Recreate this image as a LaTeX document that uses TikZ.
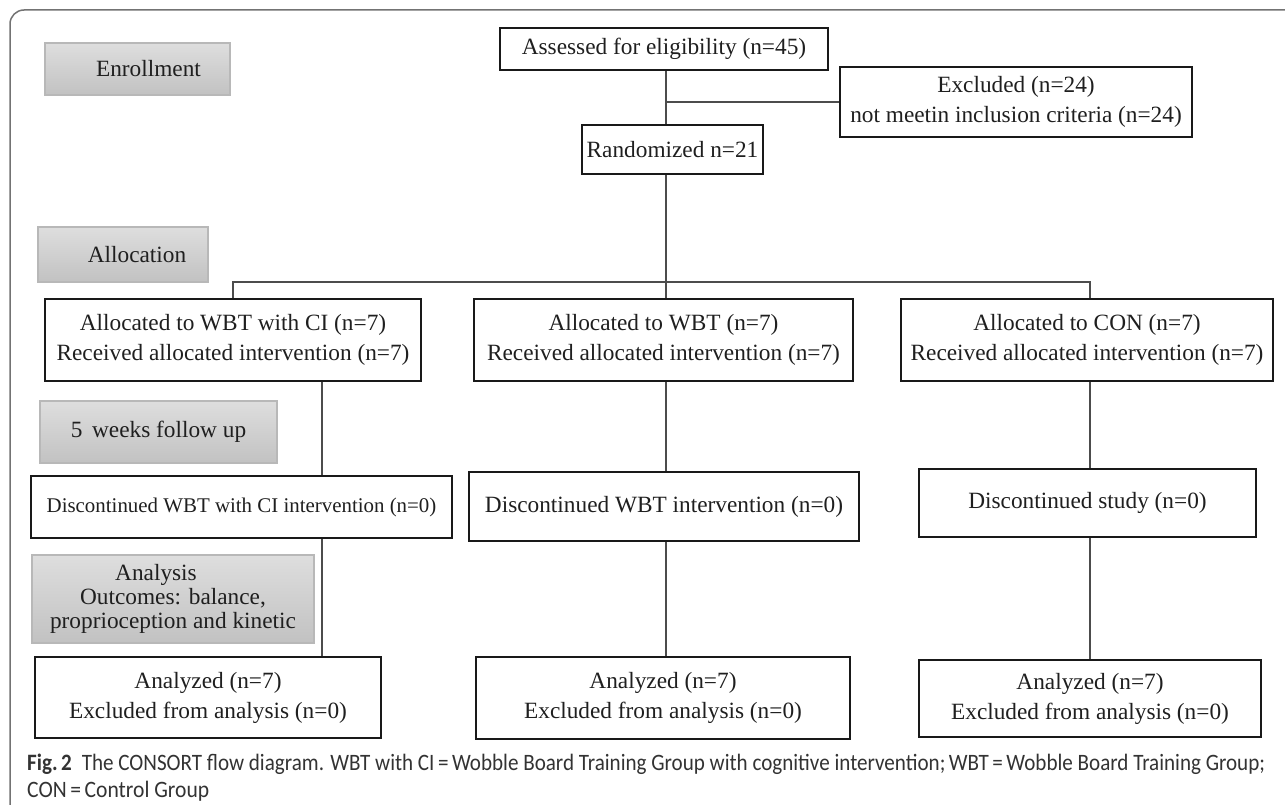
\documentclass[tikz,border=0pt]{standalone}
\usepackage{graphicx}
\usepackage{fontspec}
\setmainfont{Liberation Serif}
\newfontfamily\capfont{Carlito}
\usetikzlibrary{calc}
\newcommand\capone{\textbf{Fig.\,2}\hspace{11pt}The CONSORT flow diagram. WBT with CI\,=\,Wobble Board Training Group with cognitive intervention;\,WBT\,=\,Wobble Board Training Group;}
\begin{document}
\begin{tikzpicture}[x=1pt,y=-1pt,
  wbox/.style={draw=black!90, line width=2.6pt, fill=white, inner sep=0pt, align=center,
    font=\fontsize{23.3}{30}\selectfont, text=black!88},
  gbox/.style={draw=black!28, line width=1.2pt, top color=black!13, bottom color=black!24,
    inner sep=0pt, align=center, font=\fontsize{23.3}{24}\selectfont, text=black!88},
  conn/.style={draw=black!70, line width=1.3pt},
  framestyle/.style={draw=black!55, line width=1.5pt, rounded corners=14pt},
  captext/.style={anchor=base west, inner sep=0pt, text=black!80,
    font=\capfont\fontsize{23.5}{26}\selectfont},
]
\useasboundingbox (0,0) rectangle (1285,805);
\fill[white] (0,0) rectangle (1285,805);

% frame
\draw[framestyle] (10,820) -- (10,10) -- (1300,10);

% stage labels
\node[gbox, minimum width=185pt, minimum height=52pt] (enroll) at (137.5,69) {\hspace*{22pt}Enrollment};
\node[gbox, minimum width=170pt, minimum height=55pt] (alloc) at (123,254.5) {\hspace*{28pt}Allocation};
\node[gbox, minimum width=237pt, minimum height=62pt] (weeks) at (158.5,432) {5~\,weeks follow up};
\node[gbox, minimum width=282pt, minimum height=88pt] (analysis) at (173,599)
  {Analysis\hspace*{34pt}\\Outcomes: balance,\hspace*{34pt}\\proprioception and kinetic};

% flow boxes
\node[wbox, minimum width=328pt, minimum height=42pt] (assess) at (664,49) {Assessed for eligibility (n=45)};
\node[wbox, minimum width=352pt, minimum height=70pt] (excl) at (1016,102) {Excluded (n=24)\\not meetin inclusion criteria (n=24)};
\node[wbox, minimum width=181pt, minimum height=49pt] (rand) at (672.5,149.5) {Randomized n=21};

\node[wbox, minimum width=376pt, minimum height=82pt] (a1) at (233,340) {Allocated to WBT with CI (n=7)\\Received allocated intervention (n=7)};
\node[wbox, minimum width=379pt, minimum height=82pt] (a2) at (663.5,340) {Allocated to WBT (n=7)\\Received allocated intervention (n=7)};
\node[wbox, minimum width=372pt, minimum height=82pt] (a3) at (1087,340) {Allocated to CON (n=7)\\Received allocated intervention (n=7)};

\node[wbox, minimum width=421pt, minimum height=62pt, font=\fontsize{20.9}{26}\selectfont] (d1) at (241.5,507) {Discontinued WBT with CI intervention (n=0)};
\node[wbox, minimum width=390pt, minimum height=69pt] (d2) at (664,506.5) {Discontinued WBT intervention (n=0)};
\node[wbox, minimum width=337pt, minimum height=68pt] (d3) at (1087.5,503) {Discontinued study (n=0)};

\node[wbox, minimum width=346pt, minimum height=81pt] (n1) at (208,697.5) {Analyzed (n=7)\\Excluded from analysis (n=0)};
\node[wbox, minimum width=374pt, minimum height=82pt] (n2) at (663,698) {Analyzed (n=7)\\Excluded from analysis (n=0)};
\node[wbox, minimum width=342pt, minimum height=77pt] (n3) at (1090,698.5) {Analyzed (n=7)\\Excluded from analysis (n=0)};

% helper coordinates
\coordinate (spine) at (666,0);
\coordinate (split) at (0,282);
\coordinate (lc) at (322,0);
\coordinate (rc) at (1090,0);

% connectors
\draw[conn] (assess.south -| spine) -- (rand.north -| spine);
\draw[conn] (spine |- excl.west) -- (excl.west);
\draw[conn] (rand.south -| spine) -- (spine |- split);
\draw[conn] (a1.north) -- (a1.north |- split) -- (rc |- split) -- (rc |- a3.north);
\draw[conn] (spine |- split) -- (spine |- a2.north);

\draw[conn] (lc |- a1.south) -- (lc |- d1.north);
\draw[conn] (lc |- d1.south) -- (lc |- n1.north);
\draw[conn] (spine |- a2.south) -- (spine |- d2.north);
\draw[conn] (spine |- d2.south) -- (spine |- n2.north);
\draw[conn] (rc |- a3.south) -- (rc |- d3.north);
\draw[conn] (rc |- d3.south) -- (rc |- n3.north);

% caption
\node[captext] (cap1) at (27,770) {\resizebox{1238pt}{\height}{\capone}};
\node[captext] (cap2) at (27,797) {\resizebox{182pt}{\height}{CON\,=\,Control Group}};
\end{tikzpicture}
\end{document}
